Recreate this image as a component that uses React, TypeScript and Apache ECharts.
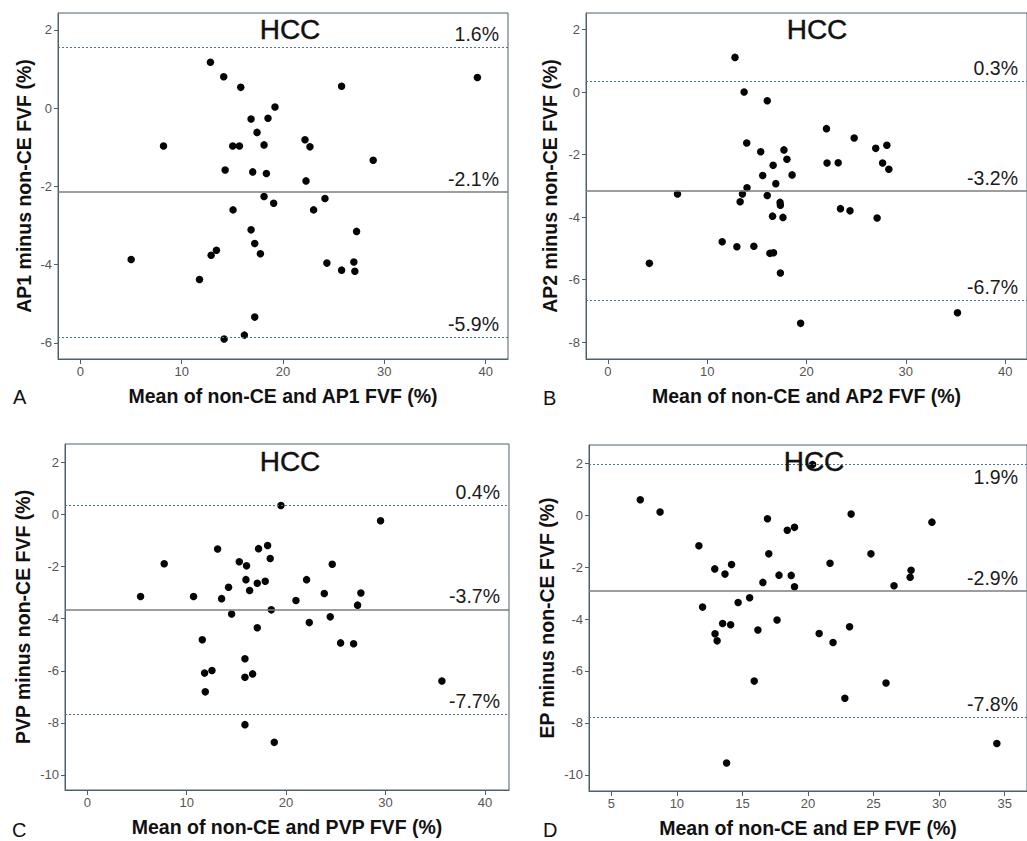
import React, { useEffect, useRef } from "react";
import * as echarts from "echarts";

// ---------- DATA ----------
// Panel A: AP1
const ap1Mean = [12.84, 14.15, 15.83, 39.18, 25.78, 19.21, 16.85, 18.52, 17.44, 8.21, 15.04, 15.70, 18.13, 22.17, 22.66, 28.90, 14.29, 17.01, 18.36, 22.27, 18.13, 19.08, 24.14, 15.07, 23.02, 16.85, 27.26, 17.21, 13.43, 12.91, 17.77, 5.02, 24.33, 26.99, 25.78, 27.09, 11.76, 17.21, 16.19, 14.19];
const ap1Diff = [1.17, 0.80, 0.53, 0.78, 0.56, 0.03, -0.28, -0.26, -0.62, -0.97, -0.97, -0.97, -0.94, -0.81, -0.99, -1.33, -1.58, -1.63, -1.67, -1.86, -2.26, -2.43, -2.31, -2.60, -2.60, -3.11, -3.15, -3.46, -3.63, -3.76, -3.72, -3.87, -3.96, -3.93, -4.14, -4.17, -4.38, -5.34, -5.80, -5.90];
const ap1Limits = [1.56, -2.14, -5.85];
const ap1LimitLabels = ["1.6%", "-2.1%", "-5.9%"];

// Panel B: AP2
const ap2Mean = [12.80, 13.72, 16.05, 22.01, 24.80, 13.98, 28.09, 26.97, 15.39, 17.73, 18.03, 22.07, 23.19, 27.66, 28.29, 16.64, 18.55, 15.59, 16.91, 14.01, 13.55, 7.01, 16.05, 13.32, 17.34, 17.37, 23.42, 24.38, 16.58, 17.63, 27.11, 11.51, 12.99, 14.70, 16.32, 16.68, 4.18, 17.37, 35.20, 19.41];
const ap2Diff = [1.11, 0.00, -0.28, -1.17, -1.47, -1.63, -1.70, -1.80, -1.91, -1.85, -2.15, -2.27, -2.26, -2.27, -2.47, -2.34, -2.65, -2.67, -2.93, -3.06, -3.26, -3.26, -3.31, -3.51, -3.53, -3.62, -3.73, -3.80, -3.97, -4.01, -4.03, -4.79, -4.95, -4.93, -5.16, -5.14, -5.48, -5.79, -7.06, -7.40];
const ap2Limits = [0.35, -3.16, -6.65];
const ap2LimitLabels = ["0.3%", "-3.2%", "-6.7%"];

// Panel C: PVP
const pvpMean = [19.48, 29.50, 13.11, 17.23, 18.14, 18.40, 7.74, 15.29, 16.02, 24.64, 15.96, 17.90, 17.10, 22.06, 14.21, 16.33, 5.36, 10.69, 13.51, 23.84, 27.52, 20.99, 27.19, 18.51, 14.52, 24.44, 22.33, 17.10, 11.57, 25.48, 26.79, 15.86, 11.80, 12.54, 15.86, 16.63, 11.87, 35.67, 15.86, 18.81];
const pvpDiff = [0.35, -0.24, -1.32, -1.31, -1.19, -1.69, -1.89, -1.81, -1.97, -1.91, -2.50, -2.56, -2.64, -2.50, -2.79, -2.92, -3.15, -3.15, -3.23, -3.03, -3.01, -3.30, -3.48, -3.66, -3.82, -3.93, -4.15, -4.35, -4.81, -4.93, -4.96, -5.54, -6.09, -5.99, -6.25, -6.12, -6.81, -6.39, -8.07, -8.75];
const pvpLimits = [0.37, -3.64, -7.68];
const pvpLimitLabels = ["0.4%", "-3.7%", "-7.7%"];

// Panel D: EP
const epMean = [7.21, 8.72, 16.91, 23.29, 29.45, 18.42, 18.97, 11.68, 17.01, 24.80, 21.68, 12.89, 14.17, 13.67, 17.79, 18.72, 27.86, 27.79, 16.56, 18.97, 26.56, 15.55, 14.67, 11.96, 17.64, 13.49, 14.10, 23.17, 16.18, 12.91, 20.85, 13.07, 21.91, 15.90, 25.95, 22.81, 34.40, 13.79, 20.35];
const epDiff = [0.59, 0.12, -0.14, 0.04, -0.27, -0.58, -0.47, -1.18, -1.49, -1.49, -1.85, -2.07, -1.90, -2.27, -2.31, -2.32, -2.12, -2.39, -2.59, -2.76, -2.72, -3.18, -3.36, -3.54, -4.04, -4.17, -4.22, -4.30, -4.42, -4.57, -4.56, -4.84, -4.90, -6.39, -6.46, -7.05, -8.79, -9.54, 1.95];
const epLimits = [1.95, -2.91, -7.79];
const epLimitLabels = ["1.9%", "-2.9%", "-7.8%"];

// Tick labels
const xTicksAC = [0, 10, 20, 30, 40];
const xTicksD = [5, 10, 15, 20, 25, 30, 35];
const yTicksA = [-6, -4, -2, 0, 2];
const yTicksB = [-8, -6, -4, -2, 0, 2];
const yTicksCD = [-10, -8, -6, -4, -2, 0, 2];

const panelLetters = ["A", "B", "C", "D"];
const titleText = "HCC";

// ---------- LAYOUT / STYLE ----------
const FONT = 'Arial, "Liberation Sans", Helvetica, sans-serif';
const FRAME = "#4f6168";

const panels = [
  {
    grid: { left: 58, top: 13, width: 450, height: 346 },
    xRange: [-2.2, 42.2], yRange: [-6.41, 2.43],
    xTicks: xTicksAC, yTicks: yTicksA,
    xs: ap1Mean, ys: ap1Diff, limits: ap1Limits, limitLabels: ap1LimitLabels,
    xName: "Mean of non-CE and AP1 FVF (%)", yName: "AP1 minus non-CE FVF (%)",
    yNameGap: 24, upperBelow: false,
    title: [290, 29], letter: [13, 397],
  },
  {
    grid: { left: 586, top: 13, width: 450, height: 346 },
    xRange: [-2.2, 42.2], yRange: [-8.54, 2.53],
    xTicks: xTicksAC, yTicks: yTicksB,
    xs: ap2Mean, ys: ap2Diff, limits: ap2Limits, limitLabels: ap2LimitLabels,
    xName: "Mean of non-CE and AP2 FVF (%)", yName: "AP2 minus non-CE FVF (%)",
    yNameGap: 26, upperBelow: false,
    title: [817, 29], letter: [543, 398],
  },
  {
    grid: { left: 65, top: 444, width: 444, height: 346 },
    xRange: [-2.24, 42.42], yRange: [-10.58, 2.71],
    xTicks: xTicksAC, yTicks: yTicksCD,
    xs: pvpMean, ys: pvpDiff, limits: pvpLimits, limitLabels: pvpLimitLabels,
    xName: "Mean of non-CE and PVP FVF (%)", yName: "PVP minus non-CE FVF (%)",
    yNameGap: 32, upperBelow: false,
    title: [290, 461], letter: [12, 830],
  },
  {
    grid: { left: 589, top: 445, width: 443, height: 346 },
    xRange: [3.3, 36.7], yRange: [-10.62, 2.7],
    xTicks: xTicksD, yTicks: yTicksCD,
    xs: epMean, ys: epDiff, limits: epLimits, limitLabels: epLimitLabels,
    xName: "Mean of non-CE and EP FVF (%)", yName: "EP minus non-CE FVF (%)",
    yNameGap: 32, upperBelow: true,
    title: [814, 461], letter: [543, 830],
  },
];

export default function App() {
  const ref = useRef<HTMLDivElement>(null);

  useEffect(() => {
    if (!ref.current) return;
    const chart = echarts.init(ref.current, undefined, { renderer: "svg" });

    const nameStyle = { fontSize: 19.5, fontWeight: "bold", color: "#111", fontFamily: FONT };
    const labelStyle = { color: "#555", fontSize: 13, fontFamily: FONT };

    const option: any = {
      animation: false,
      backgroundColor: "#ffffff",
      textStyle: { fontFamily: FONT },
      grid: panels.map((p) => ({
        ...p.grid,
        show: true,
        borderColor: FRAME,
        borderWidth: 1,
        backgroundColor: "transparent",
        containLabel: false,
      })),
      xAxis: panels.map((p, i) => ({
        gridIndex: i,
        type: "value",
        min: p.xRange[0],
        max: p.xRange[1],
        name: p.xName,
        nameLocation: "middle",
        nameGap: 27,
        nameTextStyle: nameStyle,
        axisLine: { show: true, onZero: false, lineStyle: { color: FRAME, width: 1 } },
        axisTick: { show: true, length: 5, customValues: p.xTicks, lineStyle: { color: FRAME } },
        axisLabel: { ...labelStyle, margin: 6, customValues: p.xTicks },
        splitLine: { show: false },
      })),
      yAxis: panels.map((p, i) => ({
        gridIndex: i,
        type: "value",
        min: p.yRange[0],
        max: p.yRange[1],
        name: p.yName,
        nameLocation: "middle",
        nameGap: p.yNameGap,
        nameTextStyle: nameStyle,
        axisLine: { show: true, onZero: false, lineStyle: { color: FRAME, width: 1 } },
        axisTick: { show: true, length: 4, customValues: p.yTicks, lineStyle: { color: FRAME } },
        axisLabel: { ...labelStyle, margin: 6, customValues: p.yTicks },
        splitLine: { show: false },
      })),
      series: panels.map((p, i) => ({
        type: "scatter",
        xAxisIndex: i,
        yAxisIndex: i,
        data: p.xs.map((x, j) => [x, p.ys[j]]),
        symbol: "circle",
        symbolSize: 7.5,
        itemStyle: { color: "#050505", opacity: 1 },
        markLine: {
          silent: true,
          symbol: ["none", "none"],
          data: p.limits.map((v, k) => ({
            yAxis: v,
            lineStyle: {
              type: k === 1 ? "solid" : [2, 2],
              color: k === 1 ? "#7d7d7d" : "#4c7585",
              width: k === 1 ? 1.5 : 1.2,
            },
            label: {
              show: true,
              formatter: p.limitLabels[k],
              position: k === 0 && p.upperBelow ? "insideEndBottom" : "insideEndTop",
              distance: [9, 3],
              fontSize: 19.5,
              color: "#1a1a1a",
              fontFamily: FONT,
            },
          })),
        },
      })),
      graphic: [
        ...panels.map((p) => ({
          type: "text",
          x: p.title[0],
          y: p.title[1],
          style: {
            text: titleText,
            align: "center",
            verticalAlign: "middle",
            fontSize: 28,
            fontFamily: FONT,
            fill: "#111",
            stroke: "#111",
            lineWidth: 0.4,
          },
          z: 10,
        })),
        ...panels.map((p, i) => ({
          type: "text",
          x: p.letter[0],
          y: p.letter[1],
          style: {
            text: panelLetters[i],
            align: "left",
            verticalAlign: "middle",
            fontSize: 20,
            fontFamily: FONT,
            fill: "#111",
          },
        })),
      ],
    };

    chart.setOption(option);
    return () => chart.dispose();
  }, []);

  return (
    <div style={{ position: "absolute", left: 0, top: 0, width: 1027, height: 841, overflow: "hidden", background: "#fff" }}>
      <div ref={ref} style={{ width: 1027, height: 841 }} />
    </div>
  );
}
